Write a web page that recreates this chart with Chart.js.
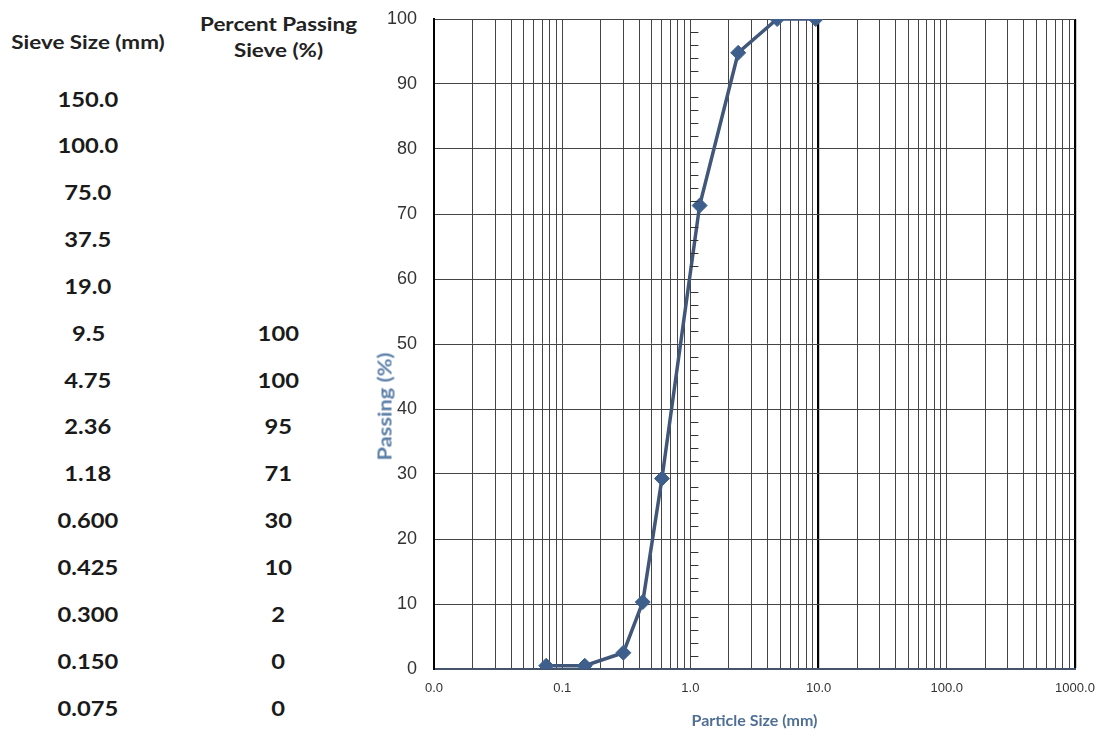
<!DOCTYPE html>
<html>
<head>
<meta charset="utf-8">
<script src="https://cdn.jsdelivr.net/npm/chart.js@4"></script>
<style>
  body { margin: 0; background: #fff; width: 1109px; height: 736px; overflow: hidden; position: relative; }
  #chartBox { position: absolute; left: 370px; top: 0; width: 739px; height: 736px; }
  .cell { position: absolute; font-family: Lato, "Open Sans", sans-serif; font-weight: bold; color: #1a1a1a; text-align: center; white-space: nowrap; }
  .val { font-size: 21px; transform: scaleX(1.13); }
  .head { font-size: 19px; line-height: 26px; color: #222; transform: scaleX(1.18); }
  #yTitle { position: absolute; font-family: Lato, sans-serif; font-weight: bold; font-size: 19px; color: #5b7fa8; white-space: nowrap; }
</style>
</head>
<body>
<div id="table"></div>
<div id="chartBox"><canvas id="myChart" width="739" height="736"></canvas></div>
<div id="yTitle">Passing (%)</div>
<script>
// table on the left
const sieveLabels = ['150.0', '100.0', '75.0', '37.5', '19.0', '9.5', '4.75', '2.36', '1.18', '0.600', '0.425', '0.300', '0.150', '0.075']
const passingLabels = ['', '', '', '', '', '100', '100', '95', '71', '30', '10', '2', '0', '0']

// plotted curve
const sizes = [0.075, 0.15, 0.3, 0.425, 0.6, 1.18, 2.36, 4.75, 9.5]
const passing = [0.5, 0.5, 2.5, 10.3, 29.3, 71.3, 94.8, 100, 100]

const decades = [0.01, 0.1, 1, 10, 100, 1000]
const multipliers = [1, 2, 3, 4, 5, 6, 7, 8, 9]

const table = document.getElementById('table')
function place(d, x, y) {
  d.style.left = (x - d.offsetWidth / 2) + 'px'
  d.style.top = (y - d.offsetHeight / 2) + 'px'
}
function addCell(text, cls, x, y) {
  const d = document.createElement('div')
  d.className = 'cell ' + cls
  d.innerHTML = text
  table.appendChild(d)
  place(d, x, y)
}
addCell('Sieve Size (mm)', 'head', 88, 42)
addCell('Percent Passing<br>Sieve (%)', 'head', 278, 37)
sieveLabels.forEach((s, i) => {
  const y = 98 + i * 46.85
  addCell(s, 'val', 88, y)
  if (passingLabels[i]) addCell(passingLabels[i], 'val', 278, y)
})

// rotated y title, sits a little below the middle like the original
const yTitle = document.getElementById('yTitle')
place(yTitle, 384, 406)
yTitle.style.transform = 'rotate(-90deg) scaleX(1.15)'

const tickValues = []
decades.forEach(d => {
  if (d === 1000) { tickValues.push(d); return }
  multipliers.forEach(m => tickValues.push(+(d * m).toPrecision(3)))
})

// small tick marks on the vertical line at 1.0
const midTicks = {
  id: 'midTicks',
  afterDatasetsDraw(chart) {
    const { ctx, scales: { x, y } } = chart
    const px = x.getPixelForValue(1)
    ctx.save()
    ctx.strokeStyle = '#333'
    ctx.lineWidth = 1
    for (let v = 2; v < 100; v += 2) {
      if (v % 10 === 0) continue
      const py = Math.round(y.getPixelForValue(v)) + 0.5
      ctx.beginPath()
      ctx.moveTo(px, py)
      ctx.lineTo(px + 8, py)
      ctx.stroke()
    }
    ctx.restore()
  }
}

const data = {
  datasets: [
    {
      label: 'Passing',
      data: sizes.map((s, i) => ({ x: s, y: passing[i] })),
      borderColor: '#41577a',
      backgroundColor: '#3e5f8c',
      borderWidth: 3.5,
      pointStyle: 'rectRot',
      pointRadius: 7.5,
      pointBorderWidth: 1,
      pointBorderColor: '#3e5f8c',
      fill: false,
      tension: 0
    }
  ]
}

const config = {
  type: 'line',
  data: data,
  options: {
    responsive: false,
    animation: false,
    layout: { padding: { top: 19, right: 34, bottom: 0, left: 0 } },
    plugins: { legend: { display: false }, tooltip: { enabled: false } },
    scales: {
      x: {
        type: 'logarithmic',
        min: 0.01,
        max: 1000,
        afterBuildTicks: scale => { scale.ticks = tickValues.map(v => ({ value: v })) },
        afterFit: scale => { scale.height = 67 },
        ticks: {
          autoSkip: false,
          maxRotation: 0,
          padding: 12,
          color: '#333',
          font: { family: 'Liberation Sans', size: 13 },
          callback: v => decades.includes(v) ? v.toFixed(1) : ''
        },
        grid: {
          drawTicks: false,
          color: c => (c.tick && (c.tick.value === 10 || c.tick.value === 1000)) ? '#000' : '#444',
          lineWidth: c => (c.tick && (c.tick.value === 10 || c.tick.value === 1000)) ? 2.2 : 1
        },
        border: { color: '#44546a', width: 2 },
        title: {
          display: true,
          text: 'Particle Size (mm)',
          color: '#4f6f94',
          font: { family: 'Lato', size: 16, weight: 'bold' },
          padding: { top: 0, bottom: 6 }
        }
      },
      y: {
        min: 0,
        max: 100,
        afterFit: scale => { scale.width = 64; scale.paddingTop = 0; scale.paddingBottom = 0 },
        ticks: {
          stepSize: 10,
          padding: 17,
          color: '#333',
          font: { family: 'Liberation Sans', size: 18 }
        },
        grid: { drawTicks: false, color: '#444', lineWidth: 1 },
        border: { color: '#000', width: 2 }
      }
    }
  },
  plugins: [midTicks]
}

const myChart = new Chart(document.getElementById('myChart').getContext('2d'), config)
</script>
</body>
</html>
